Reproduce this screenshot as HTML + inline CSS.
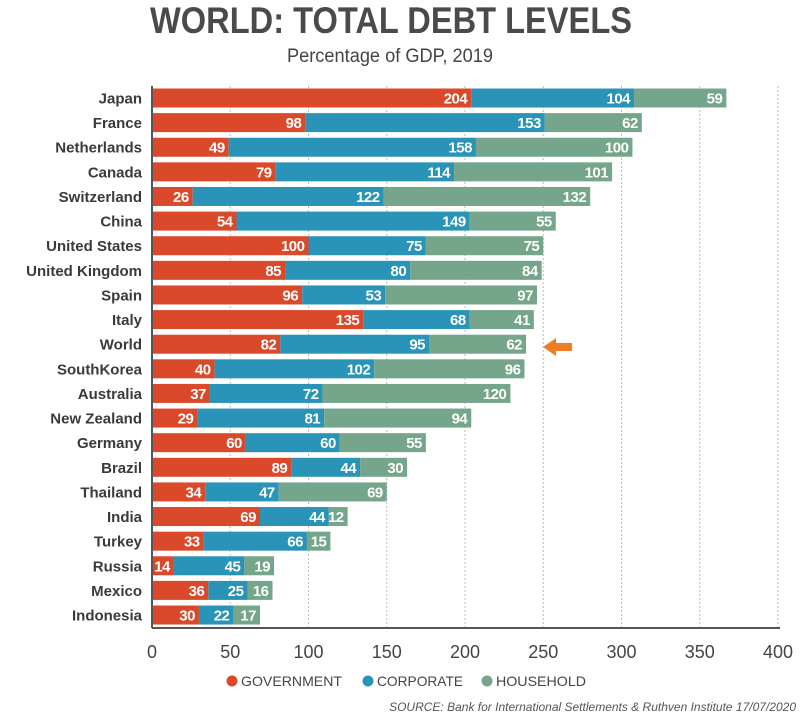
<!DOCTYPE html>
<html><head><meta charset="utf-8"><style>
body{margin:0;background:#fff;width:800px;height:718px;overflow:hidden;font-family:"Liberation Sans",sans-serif}
</style></head><body>
<svg id="c" width="800" height="718" xmlns="http://www.w3.org/2000/svg">
<text x="150" y="33" textLength="482" lengthAdjust="spacingAndGlyphs" font-size="37" font-weight="bold" fill="#4a4a4a">WORLD: TOTAL DEBT LEVELS</text>
<text x="287" y="62" textLength="206" lengthAdjust="spacingAndGlyphs" font-size="19" fill="#444">Percentage of GDP, 2019</text>
<g id="grid"></g><g id="bars"></g><g id="axes"></g>
<polygon points="543,347 556,338 556,343 572,343 572,351 556,351 556,356" fill="#ef7d22"/>
<g font-size="14" fill="#444">
<circle cx="232" cy="681" r="5.5" fill="#d9492a"/>
<text x="241" y="686" textLength="101" lengthAdjust="spacingAndGlyphs">GOVERNMENT</text>
<circle cx="368" cy="681" r="5.5" fill="#2a94b8"/>
<text x="377" y="686" textLength="86" lengthAdjust="spacingAndGlyphs">CORPORATE</text>
<circle cx="487" cy="681" r="5.5" fill="#75a58a"/>
<text x="496" y="686" textLength="90" lengthAdjust="spacingAndGlyphs">HOUSEHOLD</text>
</g>
<text x="796" y="711" text-anchor="end" font-size="12" font-style="italic" fill="#555">SOURCE: Bank for International Settlements &amp; Ruthven Institute 17/07/2020</text>
</svg>
<script>
const countries=["Japan","France","Netherlands","Canada","Switzerland","China","United States","United Kingdom","Spain","Italy","World","SouthKorea","Australia","New Zealand","Germany","Brazil","Thailand","India","Turkey","Russia","Mexico","Indonesia"];
const government=[204,98,49,79,26,54,100,85,96,135,82,40,37,29,60,89,34,69,33,14,36,30];
const corporate=[104,153,158,114,122,149,75,80,53,68,95,102,72,81,60,44,47,44,66,45,25,22];
const household=[59,62,100,101,132,55,75,84,97,41,62,96,120,94,55,30,69,12,15,19,16,17];
const ticks=[0,50,100,150,200,250,300,350,400];
const NS="http://www.w3.org/2000/svg";
const x0=152,k=1.565,y0=98,dy=24.62,bh=19;
const xs=v=>x0+v*k, ys=i=>y0+i*dy;
function mk(t,a,p){const e=document.createElementNS(NS,t);for(const n in a)e.setAttribute(n,a[n]);p.appendChild(e);return e;}
const G=document.getElementById('grid'),B=document.getElementById('bars'),A=document.getElementById('axes');
ticks.forEach((t,i)=>{
 if(t>0){const l=mk('line',{x1:xs(t),x2:xs(t),y1:86,y2:628,stroke:'#bbb','stroke-dasharray':'2,2','stroke-width':1},G);
 
 }
 const tx=mk('text',{x:xs(t),y:658,'text-anchor':'middle','font-size':18,fill:'#444'},A);
 tx.textContent=t;
 
 
});
const ax=mk('line',{x1:152,x2:780,y1:628,y2:628,stroke:'#555','stroke-width':2},A);


const ay=mk('line',{x1:152,x2:152,y1:86,y2:628,stroke:'#555','stroke-width':2},A);


const cols=['#d9492a','#2a94b8','#75a58a'],names=['government','corporate','household'];
countries.forEach((c,i)=>{
 const y=ys(i);
 const lb=mk('text',{x:142,y:y+5.5,'text-anchor':'end','font-size':15,'font-weight':'bold',fill:'#3a3a3a'},A);
 lb.textContent=c;
 
 
 const vals=[government[i],corporate[i],household[i]];let s=0;
 vals.forEach((v,j)=>{
  const r=mk('rect',{x:xs(s),y:y-bh/2,width:v*k,height:bh,fill:cols[j]},B);
  
  
  s+=v;
  const t=mk('text',{x:xs(s)-4,y:y+5.5,'text-anchor':'end','font-size':15,'font-weight':'bold',fill:'#fff','letter-spacing':'-0.5'},B);
  t.textContent=v;
  
  
 });
});
</script>
</body></html>
